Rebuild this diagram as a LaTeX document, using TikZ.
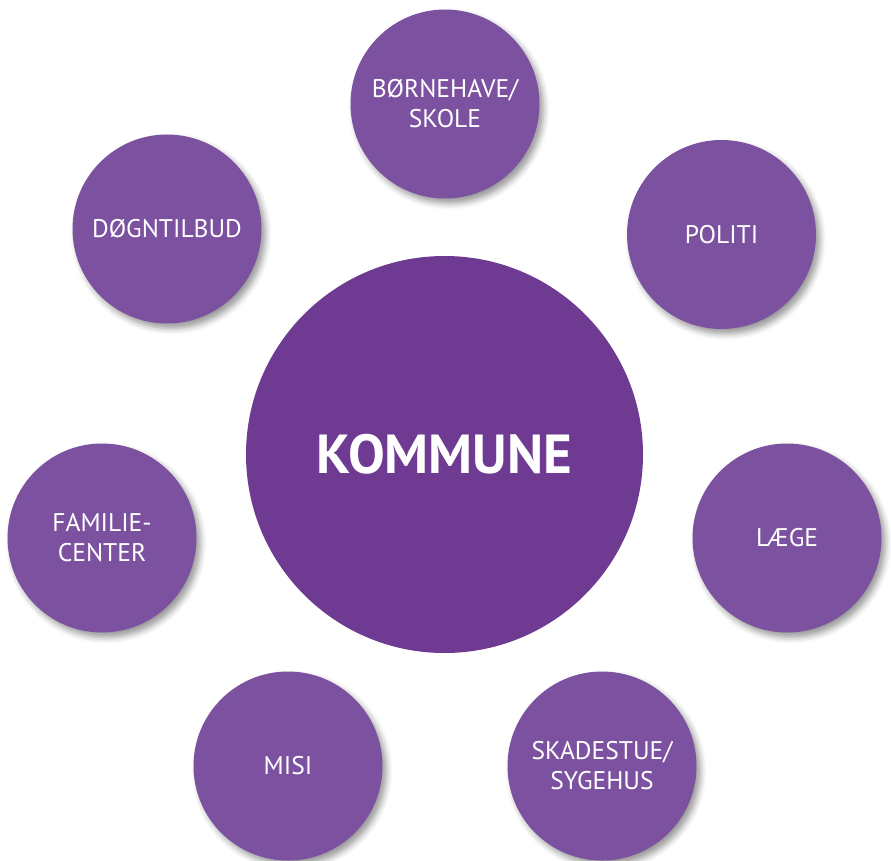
\documentclass[tikz,border=0pt]{standalone}
\usepackage{fontspec}
\setmainfont{PT Sans}
\usetikzlibrary{shadows.blur}

\definecolor{lilla}{RGB}{124,82,160}
\definecolor{mørklilla}{RGB}{111,58,146}

\begin{document}
\begin{tikzpicture}[x=1pt,y=-1pt,
	partner/.style={circle,fill=lilla,text=white,minimum size=189pt,inner sep=0pt,
		align=center,font=\fontsize{25.5}{30}\selectfont,
		blur shadow={shadow xshift=4pt,shadow yshift=-5pt,shadow blur radius=6pt,shadow opacity=40}},
	center/.style={circle,fill=mørklilla,text=white,minimum size=397pt,inner sep=0pt,
		font=\fontsize{55}{62}\selectfont\bfseries}]

	\useasboundingbox (0,0) rectangle (891,861);

	% kommune
	\node[center] (kommune) at (444.5,454.5) {KOMMUNE};

	% partners
	\node[partner] (skole) at (445,104) {BØRNEHAVE/\\SKOLE};
	\node[partner] (politi) at (721.5,234.5) {POLITI};
	\node[partner] (laege) at (787,538) {LÆGE};
	\node[partner] (skadestue) at (602,766) {SKADESTUE/\\SYGEHUS};
	\node[partner] (misi) at (288,766) {MISI};
	\node[partner] (familie) at (102,538) {FAMILIE-\\CENTER};
	\node[partner] (doegn) at (167,229) {DØGNTILBUD};

\end{tikzpicture}
\end{document}
